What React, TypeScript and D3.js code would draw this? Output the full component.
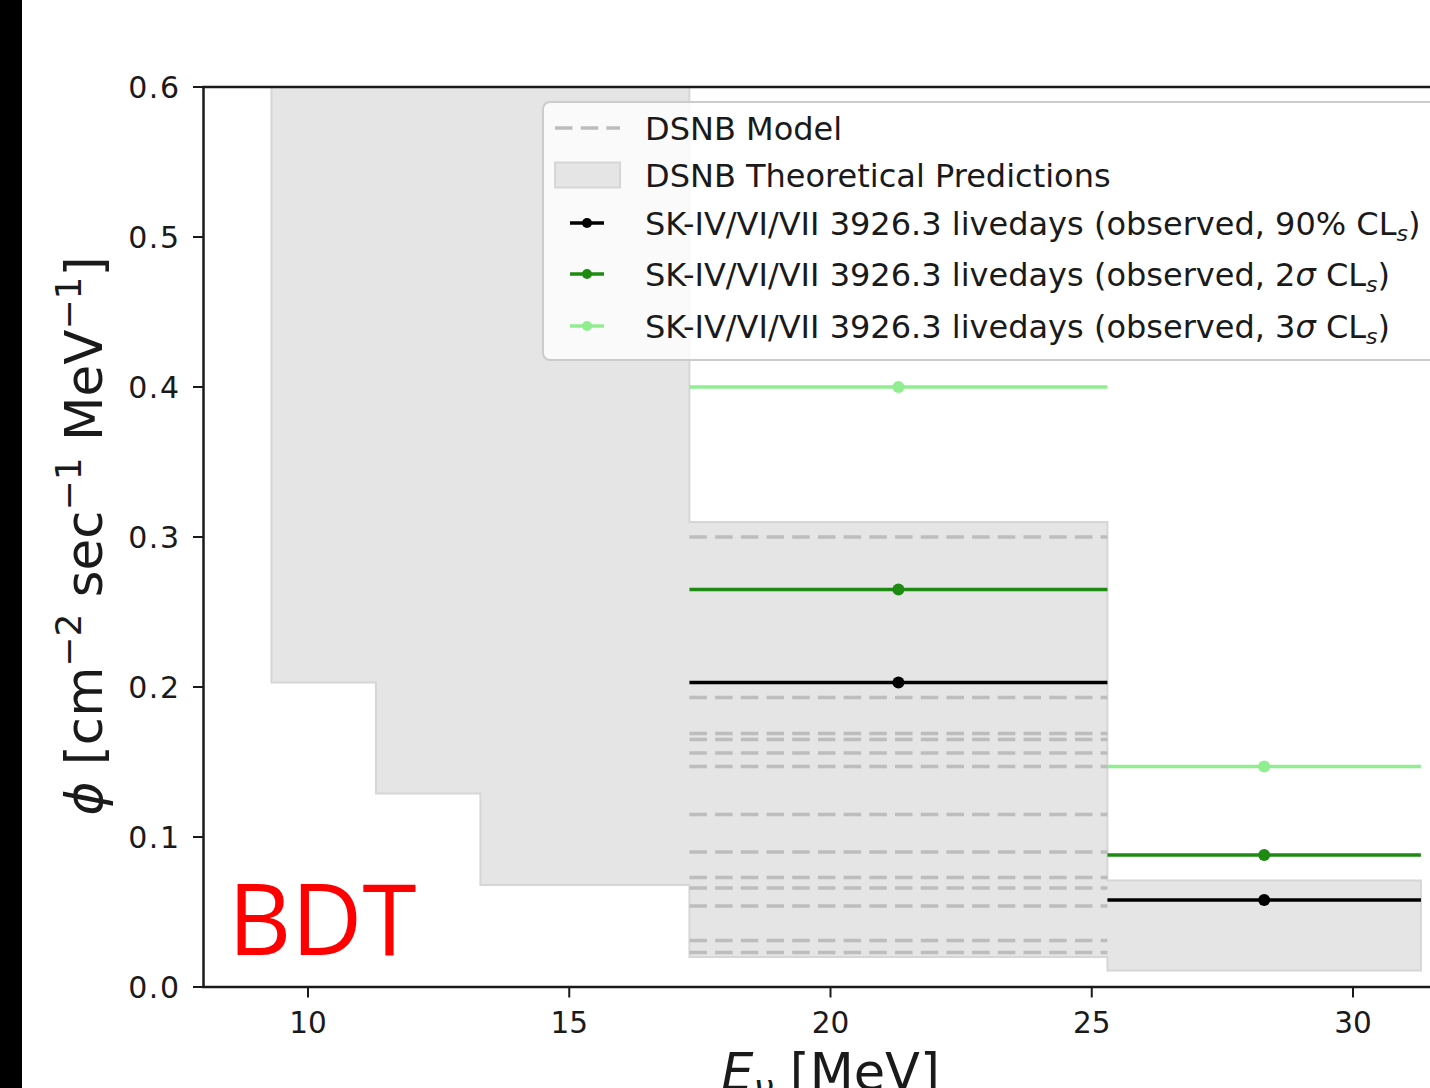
import React, { useEffect, useRef } from "react";
import * as d3 from "d3";

// energy bins [MeV]
const binLow = [9.3, 11.3, 13.3, 17.3, 25.3];
const binHigh = [11.3, 13.3, 17.3, 25.3, 31.3];
// theoretical prediction band per bin
const predLow = [0.203, 0.129, 0.068, 0.02, 0.011];
const predHigh = [0.65, 0.65, 0.65, 0.31, 0.071];

// observed upper limits (only bins shown in the plot)
const limitLow = [17.3, 25.3];
const limitHigh = [25.3, 31.3];
const limitCenter = [21.3, 28.3];
const limit90 = [0.203, 0.058];
const limit2s = [0.265, 0.088];
const limit3s = [0.4, 0.147];

// DSNB model curves in the 17.3-25.3 MeV bin
const modelBinLow = 17.3;
const modelBinHigh = 25.3;
const modelValues = [0.3, 0.193, 0.169, 0.165, 0.156, 0.147, 0.115, 0.09, 0.073, 0.066, 0.054, 0.031, 0.023];

const xTicks = [10, 15, 20, 25, 30];
const yTicks = [0, 0.1, 0.2, 0.3, 0.4, 0.5, 0.6];

const legendLabels = ["90% CL", "2σ CL", "3σ CL"];

const App = () => {
  const svgRef = useRef<SVGSVGElement>(null);

  useEffect(() => {
    const svg = d3.select(svgRef.current);
    svg.selectAll("*").remove();

    const W = 1430;
    const H = 1088;
    const left = 203.5, top = 87, bottom = 987;
    const font = "DejaVu Sans, sans-serif";
    const ink = "#1a1a1a";
    const bandFill = "#e5e5e5";
    const bandEdge = "#d6d6d6";
    const dashColor = "#bdbdbd";
    const col90 = "#000000";
    const col2s = "#1f8a12";
    const col3s = "#90ee90";

    svg.attr("width", W).attr("height", H);
    svg.append("rect").attr("width", W).attr("height", H).attr("fill", "white");
    svg.append("rect").attr("x", 0).attr("y", 0).attr("width", 22).attr("height", H).attr("fill", "black");

    const x = d3.scaleLinear().domain([8, 32]).range([left, left + 24 * 52.25]);
    const y = d3.scaleLinear().domain([0, 0.6]).range([bottom, top]);

    svg.append("defs").append("clipPath").attr("id", "plotclip")
      .append("rect").attr("x", left).attr("y", top).attr("width", x(32) - left).attr("height", bottom - top);

    const plot = svg.append("g").attr("clip-path", "url(#plotclip)");

    // theoretical band (step fill)
    const bandData = binLow.map((b, i) => ({ x: b, lo: predLow[i], hi: predHigh[i] }));
    bandData.push({ x: binHigh[binHigh.length - 1], lo: predLow[predLow.length - 1], hi: predHigh[predHigh.length - 1] });
    const area = d3.area<any>()
      .x((d) => x(d.x))
      .y0((d) => y(d.lo))
      .y1((d) => y(d.hi))
      .curve(d3.curveStepAfter);
    plot.append("path")
      .datum(bandData)
      .attr("d", area)
      .attr("fill", bandFill)
      .attr("stroke", bandEdge)
      .attr("stroke-width", 2);

    // DSNB model dashed lines
    modelValues.forEach((v) => {
      plot.append("line")
        .attr("x1", x(modelBinLow)).attr("x2", x(modelBinHigh))
        .attr("y1", y(v)).attr("y2", y(v))
        .attr("stroke", dashColor)
        .attr("stroke-width", 3.5)
        .attr("stroke-dasharray", "17.5,8.2");
    });

    // observed limits
    const series = [
      { vals: limit3s, color: col3s },
      { vals: limit2s, color: col2s },
      { vals: limit90, color: col90 },
    ];
    series.forEach((s) => {
      s.vals.forEach((v, i) => {
        plot.append("line")
          .attr("x1", x(limitLow[i])).attr("x2", x(limitHigh[i]))
          .attr("y1", y(v)).attr("y2", y(v))
          .attr("stroke", s.color)
          .attr("stroke-width", 3.5);
        plot.append("circle")
          .attr("cx", x(limitCenter[i])).attr("cy", y(v))
          .attr("r", 6)
          .attr("fill", s.color);
      });
    });

    // spines
    svg.append("line").attr("x1", left).attr("x2", left).attr("y1", top).attr("y2", bottom)
      .attr("stroke", ink).attr("stroke-width", 2.5);
    svg.append("line").attr("x1", left - 1.25).attr("x2", W).attr("y1", bottom).attr("y2", bottom)
      .attr("stroke", ink).attr("stroke-width", 2.5);
    svg.append("line").attr("x1", left - 1.25).attr("x2", W).attr("y1", top).attr("y2", top)
      .attr("stroke", ink).attr("stroke-width", 2.5);

    // y ticks
    yTicks.forEach((t) => {
      svg.append("line").attr("x1", left - 10.5).attr("x2", left).attr("y1", y(t)).attr("y2", y(t))
        .attr("stroke", ink).attr("stroke-width", 2);
      svg.append("text")
        .attr("x", left - 23).attr("y", y(t) + 10.8)
        .attr("text-anchor", "end")
        .style("font-family", font).style("font-size", "30px").style("letter-spacing", "1.5px").attr("fill", ink)
        .text(d3.format(".1f")(t));
    });

    // x ticks
    xTicks.forEach((t) => {
      svg.append("line").attr("x1", x(t)).attr("x2", x(t)).attr("y1", bottom).attr("y2", bottom + 10.5)
        .attr("stroke", ink).attr("stroke-width", 2);
      svg.append("text")
        .attr("x", x(t)).attr("y", bottom + 46)
        .attr("text-anchor", "middle")
        .style("font-family", font).style("font-size", "29.5px").attr("fill", ink)
        .text(String(t));
    });

    // axis labels
    const yl = svg.append("text")
      .attr("transform", `translate(102, 536) rotate(-90)`)
      .attr("text-anchor", "middle")
      .style("font-family", font).style("font-size", "51.5px").attr("fill", ink);
    yl.append("tspan").style("font-style", "italic").text("ϕ");
    yl.append("tspan").text(" [cm");
    yl.append("tspan").attr("dy", -21).style("font-size", "36px").text("−2");
    yl.append("tspan").attr("dy", 21).text(" sec");
    yl.append("tspan").attr("dy", -21).style("font-size", "36px").text("−1");
    yl.append("tspan").attr("dy", 21).text(" MeV");
    yl.append("tspan").attr("dy", -21).style("font-size", "36px").text("−1");
    yl.append("tspan").attr("dy", 21).text("]");

    const xl = svg.append("text")
      .attr("x", x(20)).attr("y", 1090)
      .attr("text-anchor", "middle")
      .style("font-family", font).style("font-size", "51px").attr("fill", ink);
    xl.append("tspan").style("font-style", "italic").text("E");
    xl.append("tspan").attr("dy", 10).style("font-size", "36px").style("font-style", "italic").text("ν");
    xl.append("tspan").attr("dy", -10).text(" [MeV]");

    // BDT tag
    svg.append("text")
      .attr("x", 228).attr("y", 955)
      .style("font-family", "Open Sans, sans-serif").style("font-size", "98px")
      .attr("fill", "#ff0000")
      .text("BDT");

    // legend
    const lg = svg.append("g");
    lg.append("rect")
      .attr("x", 543).attr("y", 102).attr("width", 1000).attr("height", 258).attr("rx", 7)
      .attr("fill", "white").attr("fill-opacity", 0.8)
      .attr("stroke", "#cccccc").attr("stroke-width", 2);

    const rowY = [128, 175, 223, 274, 326];
    const textX = 645;
    const legendText = (yy: number) =>
      lg.append("text").attr("x", textX).attr("y", yy + 11.5)
        .style("font-family", font).style("font-size", "32px").attr("fill", ink);

    lg.append("line").attr("x1", 555).attr("x2", 620).attr("y1", rowY[0]).attr("y2", rowY[0])
      .attr("stroke", dashColor).attr("stroke-width", 3.5).attr("stroke-dasharray", "17.5,8.2");
    legendText(rowY[0]).text("DSNB Model");

    lg.append("rect").attr("x", 555).attr("y", rowY[1] - 12.5).attr("width", 65).attr("height", 25)
      .attr("fill", bandFill).attr("stroke", bandEdge).attr("stroke-width", 2);
    legendText(rowY[1]).text("DSNB Theoretical Predictions");

    [col90, col2s, col3s].forEach((c, i) => {
      const yy = rowY[i + 2];
      lg.append("line").attr("x1", 570).attr("x2", 604).attr("y1", yy).attr("y2", yy)
        .attr("stroke", c).attr("stroke-width", 3.5);
      lg.append("circle").attr("cx", 587).attr("cy", yy).attr("r", 5).attr("fill", c);
      const t = legendText(yy);
      const parts = legendLabels[i].split("σ");
      t.append("tspan").text("SK-IV/VI/VII 3926.3 livedays (observed, " + parts[0]);
      if (parts.length > 1) {
        t.append("tspan").style("font-style", "italic").text("σ");
        t.append("tspan").text(parts[1]);
      }
      t.append("tspan").attr("dy", 6).style("font-size", "22px").style("font-style", "italic").text("s");
      t.append("tspan").attr("dy", -6).text(")");
    });
  }, []);

  return (
    <div style={{ position: "fixed", left: 0, top: 0 }}>
      <svg ref={svgRef}></svg>
    </div>
  );
};

export default App;
